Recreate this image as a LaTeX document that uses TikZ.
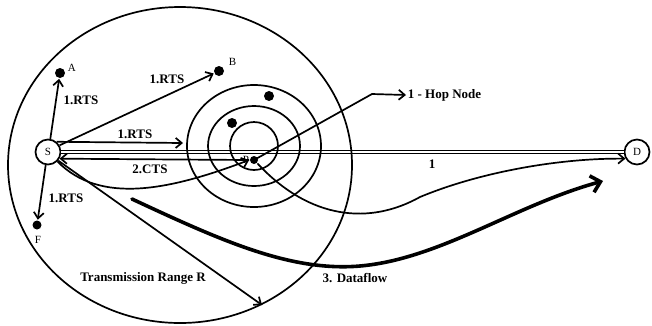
\documentclass[tikz,border=0pt]{standalone}
\usepackage{fontspec}
\setmainfont{Liberation Serif}
\usetikzlibrary{arrows.meta}
\begin{document}
\begin{tikzpicture}[x=1pt,y=-1pt,line width=1.7pt,
  arr/.style={-{Straight Barb[length=6pt,width=10pt]}},
  bigarr/.style={line width=3.6pt,line cap=round,-{Straight Barb[length=9pt,width=17pt]}},
  host/.style={circle,draw,fill=white,minimum size=25pt,inner sep=0pt,font=\fontsize{11}{11}\selectfont},
  dotnode/.style={circle,fill=black,minimum size=10pt,inner sep=0pt},
  lbl/.style={font=\bfseries\fontsize{13}{13}\selectfont,inner sep=1pt},
  nm/.style={font=\fontsize{11}{11}\selectfont,inner sep=1pt}
]
\useasboundingbox (0,0) rectangle (652,325);
\fill[white] (0,0) rectangle (652,325);

% nodes
\node[host] (S) at (48,152) {S};
\node[host] (D) at (637,152) {D};
\coordinate (Pc) at (254,160);
\coordinate (rtsend) at (183,143);
\coordinate (trend) at (262,305);
\coordinate (hc) at (372,94);
\coordinate (df1) at (132,199);
\coordinate (df2) at (603,181);

% main line S -- D
\draw[line width=1.4pt,double distance=1.2pt] (S) -- (D);

% range and rings
\draw (180,165) ellipse [x radius=172, y radius=158];
\draw (254,146) ellipse [x radius=24, y radius=24];
\draw (254,146) ellipse [x radius=46, y radius=40];
\draw (254,146) ellipse [x radius=67, y radius=61];

\node[dotnode] (A) at (60,73) {};
\node[dotnode] (B) at (219,71) {};
\node[dotnode,minimum size=9pt] (F) at (37,225) {};
\node[dotnode] (n1) at (269,96) {};
\node[dotnode] (n2) at (232,123) {};
\node[dotnode,minimum size=8pt] (P) at (Pc) {};

\node[nm,anchor=west] (Al) at (66,68) {A};
\node[nm,anchor=west] (Bl) at (227,62) {B};
\node[nm] (Fl) at (38,240) {F};
\node[nm] (Pl) at (246,160) {P};

% RTS arrows
\draw[arr] (S.80) -- (A);
\draw[arr] (S.30) -- (B);
\draw[arr] (S.-100) -- (F);
\draw[arr] (S.50) -- (rtsend);
\node[lbl] at (81,100) {1.RTS};
\node[lbl] at (167,79) {1.RTS};
\node[lbl] at (135,134) {1.RTS};
\node[lbl] at (66,198) {1.RTS};

% CTS
\draw[arr] (P.west) -- (S.-30);
\node[lbl] at (150,169) {2.CTS};
\draw[arr] (S.-45) .. controls (100,205) and (170,190) .. (P.west);

% P to D
\draw[arr] (P.south east) .. controls (310,220) and (370,225) .. (420,197)
  .. controls (480,172) and (560,158) .. (D.-150);
\node[lbl] at (432,164) {1};

% one hop
\node[lbl,anchor=west] (hop) at (406,95) {1 - Hop Node};
\draw[arr] (P.center) -- (hc) -- (hop.west);

% transmission range
\draw[arr] (S.-40) -- (trend);
\node[lbl] at (143,278) {Transmission Range R};

% dataflow
\draw[bigarr] (df1) .. controls (220,240) and (290,272) .. (360,266)
  .. controls (440,259) and (515,205) .. (df2);
\node[lbl] at (355,278) {3. Dataflow};
\end{tikzpicture}
\end{document}
